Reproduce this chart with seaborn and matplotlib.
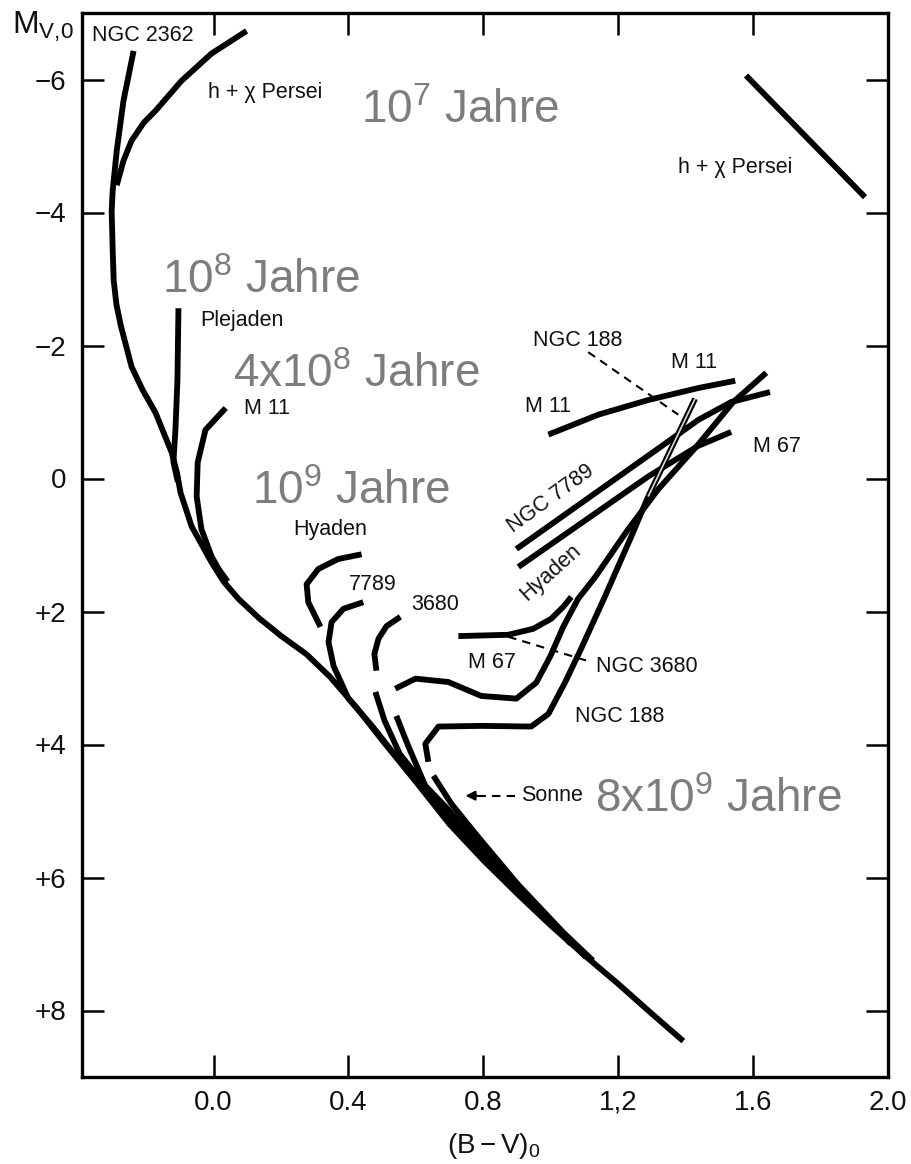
import numpy as np
import matplotlib
matplotlib.use("Agg")
import matplotlib.pyplot as plt
import seaborn as sns

# ---------------- data (B-V)_0 , M_V,0 ----------------
zams_bv = [-0.237, -0.267, -0.287, -0.299, -0.302, -0.299, -0.296, -0.288, -0.275, -0.243,
           -0.210, -0.172, -0.124, -0.108, -0.098, -0.065, -0.006, 0.030, 0.074, 0.135,
           0.201, 0.275, 0.345, 0.425, 0.504, 0.600, 0.700, 0.800, 0.900, 1.000,
           1.100, 1.200, 1.300, 1.393]
zams_mv = [-6.43, -5.68, -4.93, -4.33, -4.02, -3.43, -2.98, -2.62, -2.30, -1.68,
           -1.33, -0.99, -0.39, -0.08, 0.21, 0.72, 1.26, 1.55, 1.81, 2.10,
           2.37, 2.64, 2.98, 3.45, 3.96, 4.56, 5.20, 5.74, 6.24, 6.72,
           7.17, 7.60, 8.05, 8.46]

hchi_bv = [-0.287, -0.267, -0.243, -0.207, -0.172, -0.095, -0.006, 0.098]
hchi_mv = [-4.41, -4.78, -5.08, -5.35, -5.53, -5.98, -6.39, -6.73]
hchi_rsg_bv = [1.579, 1.932]
hchi_rsg_mv = [-6.06, -4.23]

plej_bv = [-0.104, -0.107, -0.113, -0.119, -0.106]
plej_mv = [-2.56, -1.48, -0.73, -0.25, 0.05]

m11_bv = [0.036, -0.024, -0.047, -0.050, -0.036, -0.006, 0.015, 0.042]
m11_mv = [-1.06, -0.73, -0.24, 0.27, 0.76, 1.17, 1.36, 1.55]
m11_giant_bv = [0.993, 1.141, 1.289, 1.437, 1.547]
m11_giant_mv = [-0.66, -0.96, -1.18, -1.36, -1.47]

hya_bv = [0.317, 0.281, 0.276, 0.311, 0.370, 0.439]
hya_mv = [2.23, 1.86, 1.59, 1.36, 1.21, 1.14]
hya_giant_bv = [0.904, 1.289, 1.437, 1.535]
hya_giant_mv = [1.33, -0.03, -0.49, -0.70]

n7789_bv = [0.444, 0.385, 0.350, 0.341, 0.356, 0.400, 0.470, 0.540, 0.645, 0.760, 0.870, 0.975]
n7789_mv = [1.86, 1.96, 2.16, 2.46, 2.82, 3.31, 3.72, 4.17, 4.80, 5.50, 6.07, 6.58]
n7789_giant_bv = [0.898, 1.327, 1.437, 1.535, 1.650]
n7789_giant_mv = [1.06, -0.48, -0.88, -1.15, -1.30]

n3680_to_bv = [0.554, 0.513, 0.489, 0.477, 0.483]
n3680_to_mv = [2.08, 2.22, 2.41, 2.64, 2.89]
n3680_ms_bv = [0.480, 0.507, 0.552, 0.633, 0.730, 0.842, 0.958, 1.060]
n3680_ms_mv = [3.21, 3.64, 4.14, 4.66, 5.25, 5.85, 6.45, 7.00]
n3680_giant_bv = [0.726, 0.874, 0.948, 1.001, 1.037, 1.061]
n3680_giant_mv = [2.37, 2.35, 2.26, 2.11, 1.93, 1.78]

m67_bv = [0.539, 0.599, 0.696, 0.794, 0.898, 0.957, 0.999, 1.037, 1.081, 1.132,
          1.230, 1.319, 1.437, 1.541, 1.639]
m67_mv = [3.16, 3.01, 3.06, 3.27, 3.31, 3.07, 2.67, 2.23, 1.81, 1.48,
          0.76, 0.16, -0.51, -1.15, -1.59]
m67_ms_bv = [0.542, 0.578, 0.628, 0.700, 0.785, 0.895, 1.010, 1.105]
m67_ms_mv = [3.57, 4.03, 4.62, 5.00, 5.50, 6.12, 6.72, 7.20]

n188_bv = [0.637, 0.628, 0.667, 0.794, 0.942, 0.993, 1.043, 1.090, 1.161, 1.239, 1.289]
n188_mv = [4.26, 3.99, 3.73, 3.72, 3.73, 3.54, 3.06, 2.56, 1.77, 0.87, 0.27]
n188_tip_bv = [1.289, 1.428]
n188_tip_mv = [0.27, -1.20]
n188_ms_bv = [0.652, 0.705, 0.783, 0.902, 1.036, 1.125]
n188_ms_mv = [4.47, 4.89, 5.38, 6.10, 6.82, 7.25]

ptr188_bv = [1.111, 1.378]
ptr188_mv = [-1.90, -0.96]
ptr3680_bv = [0.874, 1.120]
ptr3680_mv = [2.38, 2.76]
sonne_bv = [0.895, 0.747]
sonne_mv = [4.77, 4.77]

xticks = [0.0, 0.4, 0.8, 1.2, 1.6, 2.0]
xtick_labels = ["0.0", "0.4", "0.8", "1,2", "1.6", "2.0"]
yticks = [-6, -4, -2, 0, 2, 4, 6, 8]
ytick_labels = ["\u22126", "\u22124", "\u22122", "0", "+2", "+4", "+6", "+8"]

# labels: (text, bv, mv, rotation)
small_labels = [
    ("NGC 2362", -0.361, -6.66, 0),
    ("h + \u03c7 Persei", -0.015, -5.80, 0),
    ("h + \u03c7 Persei", 1.378, -4.68, 0),
    ("Plejaden", -0.039, -2.38, 0),
    ("M 11", 0.089, -1.06, 0),
    ("Hyaden", 0.237, 0.76, 0),
    ("7789", 0.400, 1.59, 0),
    ("3680", 0.587, 1.89, 0),
    ("M 67", 0.756, 2.76, 0),
    ("NGC 3680", 1.135, 2.82, 0),
    ("NGC 188", 1.073, 3.58, 0),
    ("NGC 188", 0.948, -2.08, 0),
    ("M 11", 1.357, -1.75, 0),
    ("M 11", 0.924, -1.09, 0),
    ("M 67", 1.600, -0.48, 0),
    ("Sonne", 0.913, 4.77, 0),
]
rot_labels = [
    ("NGC 7789", 0.999, 0.31, 36),
    ("Hyaden", 1.001, 1.41, 42),
]
# age labels: (text, bv of left edge, mv of baseline)
age_labels = [
    ("10$^{\\mathregular{7}}$ Jahre", 0.436, -5.35),
    ("10$^{\\mathregular{8}}$ Jahre", -0.154, -2.79),
    ("4x10$^{\\mathregular{8}}$ Jahre", 0.059, -1.37),
    ("10$^{\\mathregular{9}}$ Jahre", 0.113, 0.39),
    ("8x10$^{\\mathregular{9}}$ Jahre", 1.132, 5.02),
]

# ---------------- style ----------------
sns.set_theme(style="ticks")
plt.rcParams["font.family"] = ["Liberation Sans", "DejaVu Sans"]
plt.rcParams["mathtext.fontset"] = "custom"
plt.rcParams["mathtext.rm"] = "Liberation Sans"
plt.rcParams["mathtext.it"] = "Liberation Sans"

fig = plt.figure(figsize=(9.11, 11.64), dpi=100)
fig.patch.set_facecolor("white")
ax = fig.add_axes([82 / 911, 1 - 1077 / 1164, 806 / 911, 1064 / 1164])
ax.set_facecolor("white")

LW = 4.2


def curve(bv, mv, lw=LW, color="black", ls="-", z=3):
    sns.lineplot(x=bv, y=mv, sort=False, estimator=None, ax=ax, color=color,
                 linewidth=lw, linestyle=ls, zorder=z, legend=False)
    ax.lines[-1].set_solid_capstyle("butt")
    ax.lines[-1].set_solid_joinstyle("round")


solid = [
    (zams_bv, zams_mv), (hchi_bv, hchi_mv), (hchi_rsg_bv, hchi_rsg_mv),
    (plej_bv, plej_mv), (m11_bv, m11_mv), (m11_giant_bv, m11_giant_mv),
    (hya_bv, hya_mv), (hya_giant_bv, hya_giant_mv),
    (n7789_bv, n7789_mv), (n7789_giant_bv, n7789_giant_mv),
    (n3680_to_bv, n3680_to_mv), (n3680_ms_bv, n3680_ms_mv),
    (n3680_giant_bv, n3680_giant_mv),
    (m67_bv, m67_mv), (m67_ms_bv, m67_ms_mv),
    (n188_bv, n188_mv), (n188_ms_bv, n188_ms_mv),
]
for bv, mv in solid:
    curve(bv, mv)

# hollow tip of NGC 188 giant branch
curve(n188_tip_bv, n188_tip_mv, lw=LW, z=4)
curve(n188_tip_bv, n188_tip_mv, lw=1.2, color="#d8d8d8", z=5)

# dashed pointers
for bv, mv in [(ptr188_bv, ptr188_mv), (ptr3680_bv, ptr3680_mv)]:
    curve(bv, mv, lw=1.5, ls=(0, (4, 3)), z=2)
ax.plot([sonne_bv[0], sonne_bv[1] + 0.03], sonne_mv, color="black", lw=1.5,
        ls=(0, (4, 3)), zorder=2)
ax.annotate("", xy=(sonne_bv[1], sonne_mv[1]), xytext=(sonne_bv[1] + 0.035, sonne_mv[1]),
            arrowprops=dict(arrowstyle="-|>", color="black", lw=1.5, mutation_scale=14,
                            shrinkA=0, shrinkB=0))

for txt, x, y, r in small_labels:
    ax.text(x, y, txt, fontsize=15.5, ha="left", va="center", color="#111111", zorder=6)
for txt, x, y, r in rot_labels:
    ax.text(x, y, txt, fontsize=15.5, ha="center", va="center", rotation=r,
            rotation_mode="anchor", color="#111111", zorder=6)
for txt, x, y in age_labels:
    ax.text(x, y, txt, fontsize=33, ha="left", va="baseline", color="#7d7d7d", zorder=6)

ax.set_xlim(-0.39, 2.0)
ax.set_ylim(9, -7)
ax.set_xticks(xticks)
ax.set_xticklabels(xtick_labels)
ax.set_yticks(yticks)
ax.set_yticklabels(ytick_labels)
ax.tick_params(direction="in", length=16, width=1.8, top=True, right=True,
               labelsize=20, color="black", labelcolor="#111111")
ax.tick_params(axis="y", pad=11)
ax.tick_params(axis="x", pad=9)
for s in ax.spines.values():
    s.set_linewidth(2.4)
    s.set_color("black")
    s.set_visible(True)
ax.set_xlabel("")
ax.set_ylabel("")

fig.text(12 / 911, 1 - 27 / 1164, r"$\mathregular{M_{V{,}0}}$", fontsize=23,
         ha="left", va="center", color="#111111")
fig.text(494 / 911, 1 - 1146 / 1164, r"$\mathregular{(B - V)_0}$", fontsize=20,
         ha="center", va="center", color="#111111")

fig.savefig("out.png", dpi=100, facecolor="white")
